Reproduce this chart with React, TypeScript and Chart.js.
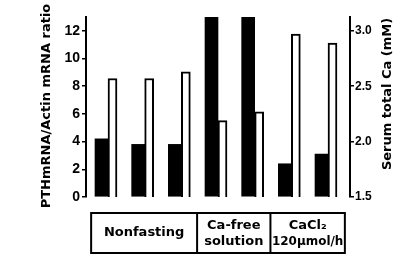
import React, { useEffect, useRef } from "react";
import { Chart, registerables } from "chart.js";

Chart.register(...registerables);

// ---- data ----
const barPositions = [0, 1, 2, 3, 4, 5, 6];
const pthRatio = [4.2, 3.8, 3.8, 13, 13, 2.4, 3.1];
const serumCa = [2.57, 2.57, 2.63, 2.19, 2.27, 2.97, 2.89];
const groupLabels = [["Nonfasting"], ["Ca-free", "solution"], ["CaCl\u2082", "120\u03bcmol/h"]];
const groupSizes = [3, 2, 2];
const leftTitle = "PTHmRNA/Actin mRNA ratio";
const rightTitle = "Serum total Ca (mM)";

const BOLD = "bold 13px 'DejaVu Sans'";

const decorPlugin = {
  id: "decor",
  afterDraw(chart: any) {
    const ctx = chart.ctx as CanvasRenderingContext2D;
    const xs = chart.scales.x;
    const area = chart.chartArea;
    ctx.save();
    ctx.fillStyle = "#000";
    ctx.strokeStyle = "#000";
    ctx.font = BOLD;
    ctx.textAlign = "center";
    ctx.textBaseline = "middle";
    // left title
    ctx.save();
    ctx.translate(47, (area.top + area.bottom) / 2 - 1);
    ctx.rotate(-Math.PI / 2);
    ctx.fillText(leftTitle, 0, 0);
    ctx.restore();
    // right title
    ctx.save();
    ctx.translate(388, 94);
    ctx.rotate(-Math.PI / 2);
    ctx.fillText(rightTitle, 0, 0);
    ctx.restore();

    // group box
    const bounds: number[] = [];
    let idx = 0;
    bounds.push(xs.getPixelForValue(barPositions[0] - 0.46));
    groupSizes.forEach((n, g) => {
      idx += n;
      if (g < groupSizes.length - 1) {
        bounds.push(xs.getPixelForValue((barPositions[idx - 1] + barPositions[idx]) / 2 - 0.07));
      }
    });
    bounds.push(xs.getPixelForValue(barPositions[barPositions.length - 1] + 0.46));
    const top = 213;
    const bottom = 253;
    ctx.lineWidth = 2;
    ctx.strokeRect(bounds[0], top, bounds[bounds.length - 1] - bounds[0], bottom - top);
    for (let i = 1; i < bounds.length - 1; i++) {
      ctx.beginPath();
      ctx.moveTo(bounds[i], top);
      ctx.lineTo(bounds[i], bottom);
      ctx.stroke();
    }
    groupLabels.forEach((lines, g) => {
      const cx = (bounds[g] + bounds[g + 1]) / 2;
      const w = bounds[g + 1] - bounds[g] - 3;
      if (lines.length === 1) {
        ctx.fillText(lines[0], cx, 233, w);
      } else {
        ctx.fillText(lines[0], cx, 226, w);
        ctx.fillText(lines[1], cx, 242, w);
      }
    });
    ctx.restore();
  },
};

export default function App() {
  const ref = useRef<HTMLCanvasElement | null>(null);
  useEffect(() => {
    if (!ref.current) return;
    const chart = new Chart(ref.current, {
      type: "bar",
      data: {
        datasets: [
          {
            label: "PTH mRNA",
            data: barPositions.map((x, i) => ({ x, y: pthRatio[i] })),
            yAxisID: "y",
            backgroundColor: "#000",
            borderWidth: 0,
            barThickness: 13,
          },
          {
            label: "Serum Ca",
            data: barPositions.map((x, i) => ({ x, y: serumCa[i] })),
            yAxisID: "y2",
            backgroundColor: "#fff",
            borderColor: "#000",
            borderWidth: 2,
            borderSkipped: false,
            barThickness: 9,
          },
        ],
      } as any,
      options: {
        responsive: false,
        animation: false,
        devicePixelRatio: 1,
        layout: { padding: { top: 17, bottom: 58, left: 0, right: 0 } },
        plugins: { legend: { display: false }, tooltip: { enabled: false } },
        scales: {
          x: { type: "linear", min: -0.6, max: 6.6, offset: false, display: false },
          y: {
            position: "left",
            min: 0,
            max: 13,
            afterFit: (s: any) => {
              s.width = 86;
            },
            ticks: {
              stepSize: 2,
              includeBounds: false,
              color: "#000",
              padding: 2,
              font: { family: "'Liberation Sans'", weight: "bold", size: 14 },
            },
            grid: { drawOnChartArea: false, drawTicks: true, tickLength: 4, color: "#000", lineWidth: 1.5 },
            border: { display: true, color: "#000", width: 2 },
          },
          y2: {
            position: "right",
            min: 1.5,
            max: 3.125,
            afterFit: (s: any) => {
              s.width = 46;
            },
            ticks: {
              stepSize: 0.5,
              includeBounds: false,
              color: "#000",
              padding: 1,
              callback: (v: any) => Number(v).toFixed(1),
              font: { family: "'Liberation Sans'", weight: "bold", size: 12 },
            },
            grid: { drawOnChartArea: false, drawTicks: true, tickLength: 4, color: "#000", lineWidth: 1.5 },
            border: { display: true, color: "#000", width: 2 },
          },
        },
      } as any,
      plugins: [decorPlugin],
    });
    return () => chart.destroy();
  }, []);
  return (
    <div style={{ position: "fixed", left: 0, top: 0, width: 396, height: 255, background: "#fff" }}>
      <canvas ref={ref} width={396} height={255} />
    </div>
  );
}
